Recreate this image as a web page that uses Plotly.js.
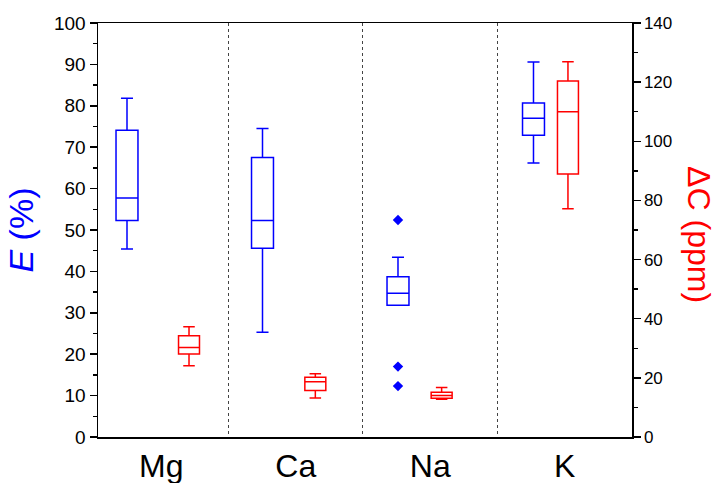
<!DOCTYPE html>
<html>
<head>
<meta charset="utf-8">
<script src="https://cdn.plot.ly/plotly-3.0.1.min.js"></script>
<style>html,body{margin:0;padding:0;background:#fff;}#chart{width:719px;height:483px;}</style>
</head>
<body>
<div id="chart"></div>
<script>
// Categories
const categories = ['Mg', 'Ca', 'Na', 'K'];

// E (%) box statistics (left axis, blue)
const E_lowerfence = [45.4, 25.3, 31.8, 66.2];
const E_q1        = [52.3, 45.6, 31.8, 72.9];
const E_median    = [57.7, 52.3, 34.7, 77.0];
const E_q3        = [74.1, 67.5, 38.7, 80.7];
const E_upperfence = [81.8, 74.5, 43.4, 90.6];

// E (%) outliers
const E_outlierCategory = ['Na', 'Na', 'Na'];
const E_outlierValue    = [52.4, 17.0, 12.3];

// ΔC (ppm) box statistics (right axis, red)
const dC_lowerfence = [24.1, 13.2, 12.8, 77.2];
const dC_q1        = [28.1, 15.7, 13.1, 88.9];
const dC_median    = [30.3, 18.7, 14.0, 110.0];
const dC_q3        = [34.2, 20.2, 15.1, 120.4];
const dC_upperfence = [37.3, 21.4, 16.7, 126.9];

// Tick labels
const yLeftTicks = [0, 10, 20, 30, 40, 50, 60, 70, 80, 90, 100];
const yRightTicks = [0, 20, 40, 60, 80, 100, 120, 140];

const FONT = 'Liberation Sans, Arial, sans-serif';
const BLUE = '#0000FF';
const RED = '#FF0000';

const traces = [
  { // carries the category axis
    type: 'scatter', x: categories, y: categories.map(() => null),
    xaxis: 'x', yaxis: 'y', mode: 'markers', showlegend: false, hoverinfo: 'skip'
  },
  {
    type: 'box', name: 'E', x: categories, xaxis: 'x2', yaxis: 'y',
    lowerfence: E_lowerfence, q1: E_q1, median: E_median, q3: E_q3, upperfence: E_upperfence,
    boxpoints: false, width: 0.162, whiskerwidth: 0.55,
    line: { color: BLUE, width: 1.5 }, fillcolor: 'rgba(0,0,0,0)', showlegend: false
  },
  {
    type: 'scatter', name: 'E outliers', x: E_outlierCategory, y: E_outlierValue,
    xaxis: 'x2', yaxis: 'y', mode: 'markers',
    marker: { symbol: 'diamond', size: 8, color: BLUE }, showlegend: false
  },
  {
    type: 'box', name: 'ΔC', x: categories, xaxis: 'x3', yaxis: 'y2',
    lowerfence: dC_lowerfence, q1: dC_q1, median: dC_median, q3: dC_q3, upperfence: dC_upperfence,
    boxpoints: false, width: 0.166, whiskerwidth: 0.55,
    line: { color: RED, width: 1.5 }, fillcolor: 'rgba(0,0,0,0)', showlegend: false
  }
];

const layout = {
  width: 719, height: 483,
  margin: { l: 98, r: 87, t: 23, b: 46, pad: 0 },
  paper_bgcolor: '#fff', plot_bgcolor: '#fff',
  font: { family: FONT, color: '#000' },
  showlegend: false,
  xaxis: {
    type: 'category', range: [-0.47, 3.5], fixedrange: true,
    tickson: 'boundaries', ticks: '', showgrid: true, griddash: 'dot',
    gridcolor: '#444', gridwidth: 1,
    showline: true, linecolor: '#000', linewidth: 1.5, mirror: true,
    zeroline: false, tickfont: { size: 32, family: FONT, color: '#000' },
    automargin: false
  },
  xaxis2: { type: 'category', overlaying: 'x', anchor: 'y', range: [-0.214, 3.727], visible: false, fixedrange: true },
  xaxis3: { type: 'category', overlaying: 'x', anchor: 'y2', range: [-0.7205, 3.507], visible: false, fixedrange: true },
  yaxis: {
    range: [0, 100], tickmode: 'array', tickvals: yLeftTicks, ticktext: yLeftTicks.map(String),
    ticks: 'outside', ticklen: 7, tickwidth: 1.5, tickcolor: '#000',
    minor: { ticks: 'outside', ticklen: 4, dtick: 5, tickwidth: 1.5, tickcolor: '#000', showgrid: false },
    showline: true, linecolor: '#000', linewidth: 1.5, showgrid: false, zeroline: false,
    tickfont: { size: 19, family: FONT, color: '#000' },
    title: { text: '<i>E</i> (%)', font: { size: 34, family: FONT, color: BLUE }, standoff: 10 },
    automargin: false, fixedrange: true
  },
  yaxis2: {
    overlaying: 'y', side: 'right', anchor: 'x',
    range: [0, 140], tickmode: 'array', tickvals: yRightTicks, ticktext: yRightTicks.map(String),
    ticks: 'outside', ticklen: 7, tickwidth: 1.5, tickcolor: '#000',
    minor: { ticks: 'outside', ticklen: 4, dtick: 10, tickwidth: 1.5, tickcolor: '#000', showgrid: false },
    showline: true, linecolor: '#000', linewidth: 1.5, showgrid: false, zeroline: false,
    tickfont: { size: 17, family: FONT, color: '#000' },
    automargin: false, fixedrange: true
  },
  annotations: [{
    text: 'ΔC (ppm)', textangle: 90, xref: 'paper', yref: 'paper',
    x: 1.1255, y: 0.49, xanchor: 'center', yanchor: 'middle', showarrow: false,
    font: { size: 32, family: FONT, color: RED }
  }]
};

Plotly.newPlot('chart', traces, layout, { displayModeBar: false, staticPlot: true });
</script>
</body>
</html>
